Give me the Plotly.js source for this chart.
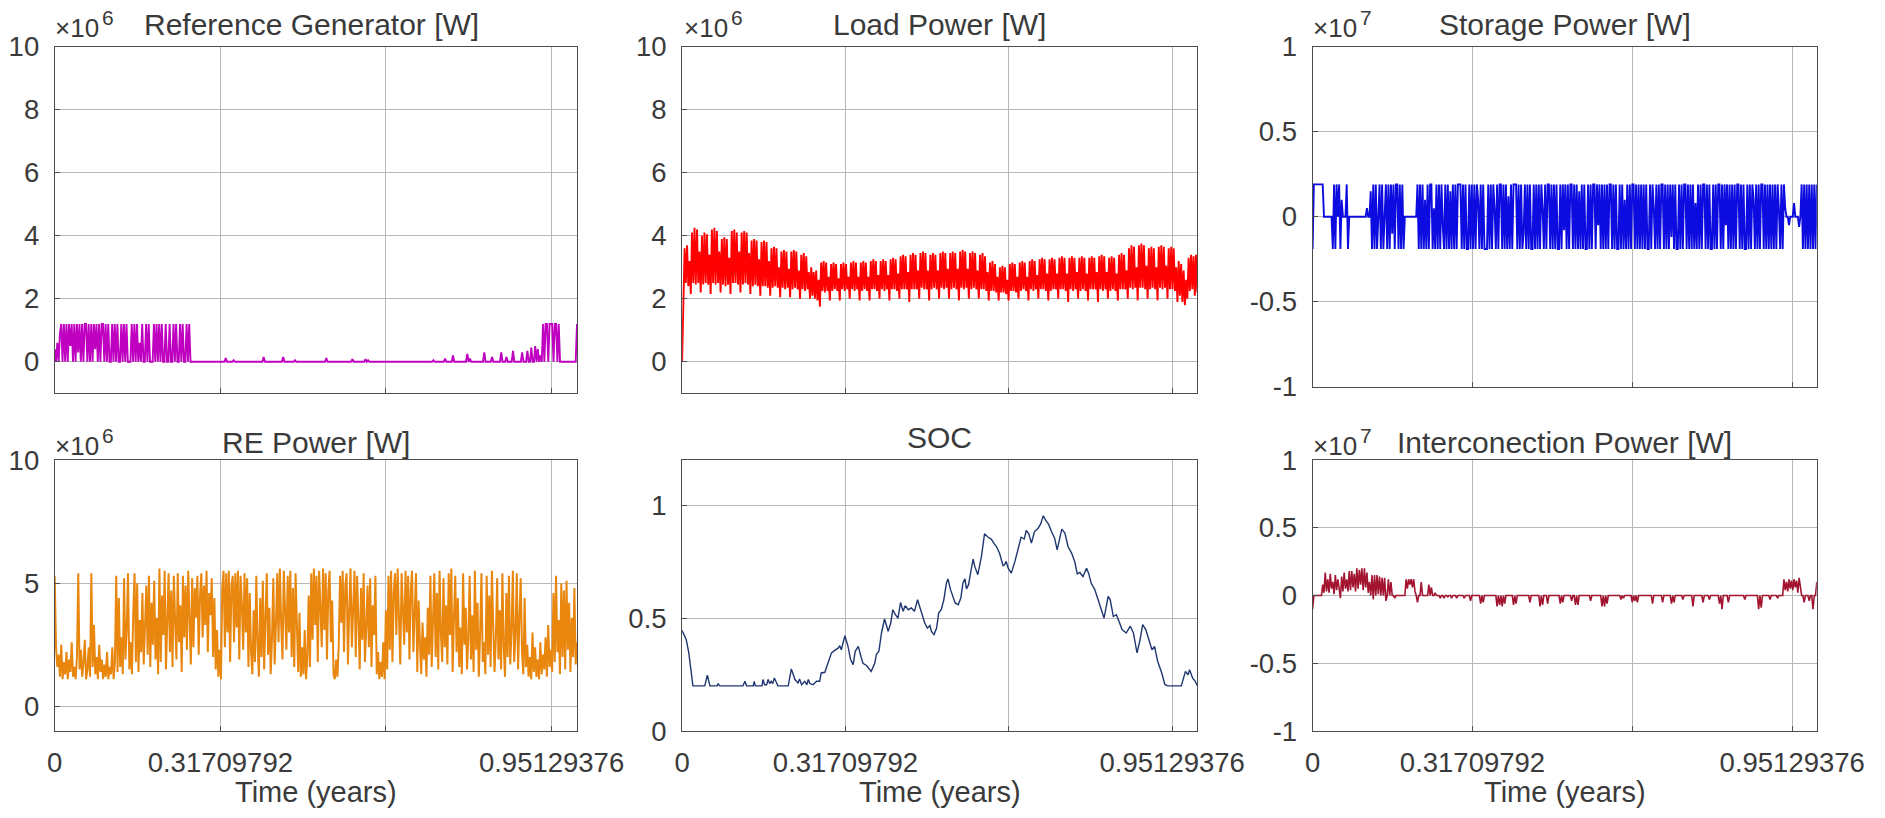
<!DOCTYPE html>
<html><head><meta charset="utf-8">
<script src="https://cdn.plot.ly/plotly-3.0.1.min.js"></script>
<style>html,body{margin:0;padding:0;background:#fff}#chart{width:1885px;height:818px}</style>
</head><body><div id="chart"></div>
<script>
// ---- tick positions (years) : 0, 1e7, 3e7 seconds labelled; 2e7 s grid only ----
const timeTicks = [0, 0.31709792, 0.95129376];
const timeTickLabels = ['0', '0.31709792', '0.95129376'];
const timeGridOnly = [0.63419584];

// ---- Reference Generator [W] (x1e6), uniform samples over one year ----
const refGenPower = [
0.4,0,0.6,0,0.9,1.2,0,1.2,0,1.2, 0,1.2,0.5,1.2,0,1.2,0,1.2,0.3,1.2,
0,1.2,0,1.2,1.2,0,1.2,0,1.2,0, 1.2,0.4,1.2,0,1.2,0,1.2,1.2,0,1.2,
0,1.2,0,0,1.2,0,1.2,0,1.2,0, 0,1.2,0,1.2,0,1.2,0,0,0,1.2,
0,1.2,0,1.2,0,0.6,0,1.2,0,0, 1.2,0,1.2,0,0,0,1.2,0,1.2,0,
1.2,0,1.2,0,0,1.2,0,0,1.2,0, 0,1.2,0,1.2,0,0,1.2,0,1.2,0,
0,1.2,0,1.2,0,0,0,0,0,0, 0,0,0,0,0,0,0,0,0,0,
0,0,0,0,0,0,0,0,0,0, 0,0.12,0,0,0,0,0,0.05,0,0,
0,0,0,0,0,0,0,0,0,0, 0,0,0,0,0,0,0,0,0,0,
0.15,0,0,0,0,0,0,0,0,0, 0,0,0,0,0,0.15,0,0,0,0,
0,0,0,0,0.05,0,0,0,0,0, 0,0,0,0,0,0,0,0,0,0,
0,0,0,0,0,0,0,0,0.12,0, 0,0,0,0,0,0,0,0,0,0,
0,0,0,0,0,0,0,0,0.08,0, 0,0,0,0,0,0,0,0,0.08,0,
0.05,0,0,0,0,0,0,0,0,0, 0,0,0,0,0,0,0,0,0,0,
0,0,0,0,0,0,0,0,0,0, 0,0,0,0,0,0,0,0,0,0,
0,0,0,0,0,0,0,0,0,0, 0.05,0,0,0,0,0,0,0,0,0.1,
0,0,0,0,0,0.2,0,0,0,0, 0,0,0,0,0,0,0.25,0,0.1,0,
0,0,0,0,0,0,0,0,0,0.3, 0,0,0,0,0,0.15,0,0,0,0,
0,0,0.3,0,0,0,0.15,0,0,0, 0,0.35,0,0,0,0,0,0,0.3,0,
0,0,0.35,0,0,0.45,0,0,0.5,0, 0.4,0,0.2,0,1.2,0,1.2,1.2,0,1.2,
1.2,1.2,0,1.2,1.2,0,1.2,0,0,0, 0,0,0,0,0,0,0,0,0,0,
1.2
];

// ---- Load Power [W] (x1e6), uniform samples over one year ----
const loadPower = [
0.0,2.2,3.6,2.5,3.7,2.4,3.2,2.15,
4.1,2.5,4.25,2.45,4.2,2.5,3.5,2.2,
4.0,2.45,4.1,2.5,4.05,2.45,3.4,2.15,
4.2,2.5,4.25,2.45,4.15,2.5,3.5,2.2,
3.9,2.45,3.95,2.4,3.9,2.45,3.3,2.15,
4.15,2.5,4.2,2.5,4.1,2.45,3.5,2.2,
4.1,2.45,4.15,2.5,4.1,2.45,3.45,2.15,
3.85,2.4,3.9,2.45,3.85,2.4,3.25,2.1,
3.8,2.4,3.85,2.4,3.8,2.35,3.2,2.1,
3.6,2.35,3.65,2.4,3.6,2.35,3.0,2.05,
3.5,2.35,3.55,2.3,3.5,2.35,2.95,2.05,
3.5,2.3,3.55,2.35,3.5,2.3,2.9,2.0,
3.4,2.3,3.45,2.25,3.35,2.3,2.85,2.0,
3.0,2.1,2.85,2.0,2.9,1.95,2.6,1.75,
3.15,2.25,3.2,2.2,3.15,2.25,2.7,1.95,
3.1,2.25,3.15,2.3,3.1,2.25,2.65,1.95,
3.1,2.3,3.15,2.25,3.1,2.3,2.7,2.0,
3.15,2.3,3.2,2.25,3.15,2.3,2.7,1.95,
3.15,2.25,3.2,2.3,3.15,2.25,2.7,1.95,
3.2,2.3,3.25,2.3,3.2,2.25,2.75,2.0,
3.2,2.3,3.25,2.25,3.2,2.3,2.75,1.95,
3.25,2.3,3.3,2.3,3.25,2.25,2.8,2.0,
3.35,2.3,3.4,2.3,3.35,2.3,2.85,1.9,
3.4,2.3,3.45,2.3,3.4,2.3,2.9,2.0,
3.45,2.35,3.5,2.3,3.45,2.3,2.9,1.95,
3.4,2.3,3.45,2.35,3.4,2.3,2.9,2.0,
3.45,2.35,3.5,2.3,3.45,2.35,2.95,2.0,
3.45,2.3,3.5,2.35,3.45,2.3,2.95,1.95,
3.5,2.35,3.55,2.3,3.5,2.35,2.95,2.0,
3.45,2.3,3.5,2.35,3.45,2.3,2.9,2.0,
3.4,2.3,3.45,2.3,3.35,2.25,2.85,1.95,
3.15,2.25,3.2,2.25,3.1,2.2,2.7,1.95,
3.0,2.2,3.05,2.2,3.0,2.15,2.6,1.95,
3.1,2.25,3.15,2.25,3.1,2.2,2.7,2.0,
3.15,2.25,3.2,2.3,3.15,2.25,2.7,1.95,
3.2,2.3,3.25,2.25,3.2,2.3,2.75,2.0,
3.25,2.3,3.3,2.3,3.25,2.25,2.8,1.95,
3.25,2.25,3.3,2.3,3.25,2.3,2.8,2.0,
3.3,2.3,3.35,2.3,3.3,2.25,2.8,1.9,
3.3,2.3,3.35,2.25,3.3,2.3,2.85,2.0,
3.3,2.25,3.35,2.3,3.3,2.25,2.8,1.95,
3.3,2.3,3.35,2.3,3.3,2.3,2.85,1.9,
3.35,2.3,3.4,2.25,3.35,2.3,2.85,2.0,
3.3,2.25,3.35,2.3,3.3,2.25,2.8,1.95,
3.4,2.3,3.45,2.3,3.4,2.3,2.9,2.0,
3.6,2.35,3.7,2.3,3.65,2.35,3.0,1.95,
3.7,2.35,3.75,2.35,3.7,2.3,3.05,2.0,
3.6,2.3,3.65,2.35,3.6,2.3,3.0,1.95,
3.65,2.35,3.7,2.3,3.65,2.35,3.05,2.0,
3.6,2.3,3.65,2.3,3.6,2.25,3.0,1.9,
3.2,2.1,3.1,1.9,2.9,1.8,2.6,2.0,
3.3,2.25,3.4,2.3,3.35,2.1,3.4,2.2
];

// ---- Storage Power [W] (x1e7), uniform samples over one year ----
const storagePower = [
-0.19,0.19,0.19,0.19,0.19,0.19,0.19,0.19,0.19,0,
0,0,0,0,0,0,-0.19,0.19,-0.19,0.19,
0,0.19,-0.19,0.1,0,0,0,0.19,-0.19,0,
0,0,0,0,0,0,0,0,0,0,
0,0,0,0.05,0,0,0.15,-0.19,0.19,-0.19,
0.19,-0.19,0,0.19,-0.19,0.19,-0.19,0.05,0.19,-0.19,
0.19,-0.19,0.19,-0.1,0.19,-0.19,0.19,0.19,-0.19,0.19,
-0.19,0.19,-0.19,0,0,0,0,0,0,0,
0,0,0,0.19,-0.19,0.19,-0.19,0.19,-0.19,0.1,
-0.19,0.19,-0.19,0.19,0.19,-0.19,0.05,-0.19,0.19,-0.19,
0.19,-0.19,0.19,-0.05,-0.19,0.19,-0.19,0.19,-0.19,0.15,
-0.19,0.19,-0.19,0.19,-0.19,0.19,0.19,0.19,-0.19,0.19,
-0.19,0.19,-0.19,-0.19,0.19,-0.19,0.19,-0.19,0.19,-0.19,
0.19,0.1,-0.19,0.19,-0.19,0.19,-0.19,-0.19,-0.19,0.19,
-0.19,0.19,-0.19,0.19,0.05,-0.19,0.19,-0.19,0.19,0.19,
-0.19,0.19,-0.19,0.19,-0.19,0.12,-0.19,0.19,-0.19,0.19,
0.19,0.19,-0.19,0.19,-0.19,0.19,-0.19,-0.1,0.19,-0.19,
0.19,-0.19,0.19,-0.19,-0.19,0.19,-0.19,0.19,-0.19,0.19,
-0.19,0.19,0.05,-0.19,0.19,-0.19,0.19,0.19,-0.19,0.19,
-0.19,0.19,-0.19,0.19,-0.19,-0.19,0.19,-0.19,0.19,-0.08,
0.19,-0.19,0.19,-0.19,0.19,0.19,-0.19,0.19,-0.19,0.19,
-0.19,0.15,-0.19,0.19,-0.19,0.19,-0.19,-0.19,0.19,-0.19,
0.19,-0.19,0.19,0.19,-0.19,0.19,-0.05,0.19,-0.19,0.19,
-0.19,0.19,-0.19,0.19,-0.19,0.19,0.19,-0.19,0.19,-0.19,
0.19,-0.19,-0.19,0.19,-0.19,0.19,-0.19,0.1,-0.19,0.19,
-0.19,0.19,-0.19,0.19,0.19,-0.19,0.19,-0.19,0.19,-0.19,
0.19,-0.19,0.19,-0.19,0.19,-0.19,-0.19,0.19,-0.19,0.19,
0.05,-0.19,0.19,-0.19,0.19,-0.19,0.19,0.19,-0.19,0.19,
-0.19,0.19,-0.19,0.19,-0.12,0.19,-0.19,0.19,-0.19,-0.19,
0.19,-0.19,0.19,-0.19,0.19,0.19,-0.19,0.19,-0.19,0.19,
-0.19,0.19,-0.19,0.08,-0.19,0.19,-0.19,0.19,-0.19,0.19,
0.19,-0.19,0.19,-0.19,0.19,-0.19,-0.19,0.19,-0.19,0.19,
-0.19,0.19,0.19,-0.19,0.19,-0.19,0.19,-0.05,0.19,-0.19,
0.19,-0.19,0.19,-0.19,0.19,-0.19,0.19,0.19,-0.19,0.19,
-0.19,0.19,-0.19,-0.19,0.19,-0.19,0.19,-0.19,0.19,0.1,
-0.19,0.19,-0.19,0.19,-0.19,0.19,0.19,-0.19,0.19,-0.19,
0.19,-0.19,0.19,-0.19,0.19,-0.19,0.19,-0.19,0.19,0.05,
-0.19,0.19,-0.19,0.19,0.05,0,0,-0.05,0,0,
0,0.08,0,0,0,-0.06,0,0.19,-0.19,0.19,
-0.19,0.19,-0.19,0.19,-0.19,0.19,-0.19,0.19,-0.19,0.19
];

// ---- RE Power [W] (x1e6), uniform samples over one year ----
const rePower = [
5.3,2.4,1.6,2.1,1.2,2.5,1.1,1.8,1.3,2.2,
1.1,1.9,1.4,2.6,1.2,1.6,1.1,2.0,5.4,1.5,
2.3,1.2,1.8,2.7,1.1,1.5,2.4,1.2,5.4,1.6,
3.3,1.3,2.0,1.1,2.5,1.4,1.9,1.1,1.7,1.2,
2.2,1.1,1.6,1.3,2.4,1.1,1.8,5.3,1.4,4.4,
1.6,2.8,1.3,5.2,1.9,3.1,5.4,1.5,2.6,1.3,
3.8,5.4,1.8,5.0,1.4,3.5,2.2,4.6,1.7,3.0,
4.9,2.1,5.3,1.6,4.2,2.5,5.1,1.9,3.6,1.3,
5.6,1.8,4.5,2.9,5.5,1.5,3.2,5.4,2.2,4.7,
1.6,5.3,3.5,1.9,5.4,2.6,4.1,1.4,5.3,2.8,
4.9,2.3,5.5,3.1,1.7,5.2,2.4,4.8,3.6,5.3,
2.1,4.5,5.4,2.8,4.9,3.3,5.5,2.2,4.6,3.7,
5.2,2.0,4.4,1.5,3.1,1.2,2.3,1.1,4.8,5.5,
2.4,5.4,3.0,5.5,1.8,4.9,5.3,2.6,5.4,3.2,
5.5,1.9,5.3,4.1,2.3,5.4,3.0,5.2,1.6,4.6,
2.2,1.3,3.9,1.8,5.3,2.5,1.2,4.4,2.0,5.1,
1.5,3.6,5.4,2.1,4.0,1.3,2.8,5.2,1.7,3.3,
5.4,2.6,5.6,3.4,1.9,5.5,4.2,2.3,5.3,3.0,
5.5,2.0,4.8,1.6,5.4,2.9,1.4,3.8,1.2,2.4,
1.3,3.1,1.1,2.0,4.5,1.6,5.4,2.7,5.6,3.3,
5.3,1.8,5.5,4.0,2.4,5.6,3.1,5.4,1.9,4.7,
5.5,2.6,4.3,1.3,1.1,1.9,1.2,2.5,5.3,3.4,
5.5,2.2,4.9,5.4,1.7,3.9,5.6,2.4,4.4,5.5,
2.0,5.3,3.6,1.5,4.8,2.7,5.4,1.8,3.2,4.9,
2.4,5.2,1.6,4.1,2.9,5.3,1.3,2.2,1.1,1.8,
1.2,2.6,1.1,3.9,1.5,5.3,2.3,5.5,1.8,4.6,
5.4,2.9,5.6,3.5,1.7,5.4,4.2,2.5,5.5,3.0,
5.3,1.9,4.7,5.5,2.2,3.8,5.4,1.4,4.3,2.6,
1.3,3.4,1.9,2.8,1.2,4.0,2.1,5.3,1.6,3.5,
5.4,2.0,4.6,1.5,5.5,3.0,1.8,5.2,2.4,4.1,
1.7,5.4,2.9,5.6,1.4,3.6,5.3,2.2,4.4,1.6,
3.2,1.3,5.4,2.5,4.0,1.5,2.8,5.3,1.9,3.7,
1.4,5.5,2.3,4.2,1.2,3.0,5.4,1.8,2.6,1.3,
5.3,2.1,4.5,1.6,5.5,3.3,1.4,2.7,5.2,1.9,
3.9,1.5,5.4,2.4,1.2,4.6,2.0,5.3,1.7,3.1,
5.5,1.8,2.9,5.4,1.5,3.6,5.2,2.2,1.3,4.4,
1.6,2.5,1.2,2.0,1.1,3.0,1.4,2.4,1.2,1.9,
1.1,2.6,1.3,2.1,1.5,2.8,1.2,3.3,1.6,2.3,
1.4,4.6,1.8,5.3,2.2,3.5,1.3,5.0,2.0,4.7,
1.5,5.1,2.3,4.2,1.4,3.6,2.0,4.8,1.7,2.6
];

// ---- SOC (per unit), read at irregular times ----
const socTime = [0,.008,.013,.021,.044,.049,.054,.068,.070,.073,.118,.122,.125,.138,.140,.142,.155,.157,.160,.164,.167,.170,.173,.176,.179,.183,.186,.206,.212,.219,.225,.228,.232,.238,.242,.245,.248,.254,.261,.267,.270,.277,.283,.290,.296,.303,.306,.309,.316,.322,.327,.332,.336,.342,.347,.351,.358,.364,.367,.374,.377,.382,.387,.393,.400,.405,.409,.414,.419,.424,.429,.433,.439,.445,.451,.457,.461,.466,.471,.476,.481,.484,.489,.494,.498,.503,.508,.513,.516,.521,.526,.530,.536,.541,.545,.549,.552,.556,.561,.565,.568,.571,.574,.581,.584,.587,.594,.600,.605,.610,.616,.623,.626,.629,.633,.639,.646,.652,.658,.664,.668,.673,.678,.684,.691,.696,.701,.707,.711,.717,.723,.728,.733,.737,.743,.749,.756,.762,.767,.772,.778,.785,.789,.794,.801,.807,.814,.819,.827,.831,.837,.843,.848,.854,.862,.870,.876,.883,.889,.894,.900,.906,.912,.917,.923,.931,.937,.942,.969,.977,.982,.985,.991,.996,1.0];
const socLevel = [.445,.405,.346,.2,.2,.247,.2,.2,.21,.2,.2,.22,.2,.2,.22,.2,.2,.228,.205,.205,.228,.21,.22,.21,.235,.215,.2,.2,.275,.228,.213,.23,.205,.22,.205,.228,.21,.205,.22,.22,.257,.26,.30,.346,.357,.367,.378,.36,.422,.375,.316,.294,.353,.375,.331,.30,.29,.272,.264,.30,.338,.353,.434,.496,.441,.478,.537,.515,.50,.569,.53,.555,.537,.545,.53,.581,.552,.508,.478,.456,.467,.441,.427,.456,.522,.537,.581,.655,.673,.626,.589,.567,.559,.589,.655,.674,.629,.648,.714,.761,.729,.706,.692,.773,.835,.873,.858,.85,.832,.817,.788,.732,.736,.751,.721,.699,.751,.81,.858,.85,.888,.873,.832,.883,.898,.917,.953,.928,.917,.883,.854,.802,.85,.894,.876,.817,.788,.751,.696,.702,.684,.721,.699,.655,.626,.581,.53,.50,.596,.581,.507,.515,.486,.449,.434,.464,.434,.346,.405,.471,.449,.405,.36,.375,.309,.257,.206,.2,.2,.264,.249,.271,.234,.22,.2];

// ---- Interconection Power [W] (x1e7), uniform samples over one year ----
const interPower = [
-0.1,0,0,0,0,0,0,0,0.08,0.02,
0.17,0.03,0.12,0.02,0.16,0.05,0.1,0.01,0.15,0.04,
0.12,0.02,-0.02,0.14,0.03,0.17,0.05,0.12,0.03,0.18,
0.04,0.18,0.06,0.16,0.03,0.2,0.05,0.19,0.08,0.2,
0.04,0.2,0.06,0.17,0.02,0.1,0,0.15,-0.03,0.15,
0,0.15,0.01,0.14,0,0.13,0,0.13,-0.04,0,
0.12,0,0.1,0,0,-0.02,0,0,0,0,
0,0,0,0,0.12,0.05,0.12,0.08,0.12,0.06,
0.12,0.03,0,-0.05,0,0,0.1,0,0,0,
0,0,0.08,0,0.06,0,0,0.02,0,0,
0,-0.02,0,0,-0.02,0,0,-0.01,0,0,
-0.02,0,0,0,-0.02,0,0,0,0,0,
-0.02,0,0,0,0,-0.04,0,0,0,0,
0,0,0,-0.06,0,-0.05,0,0,0,0,
0,0,0,0,0,0,-0.08,0,-0.07,0,
-0.08,0,-0.06,0,0,0,0,0,0,-0.07,
0,-0.06,0,0,0,0,0,0,0,0,
0,0,-0.05,0,0,0,0,0,0,0,
-0.08,0,-0.07,0,0,0,-0.06,0,0,0,
0,0,0,0,0,0,-0.06,0,-0.05,0,
0,0,0,0,0,-0.04,0,0,-0.07,0,
-0.07,0,0,0,0,0,0,0,0,0,
-0.04,0,0,0,0,0,0,0,0,-0.08,
0,-0.08,0,-0.06,0,0,0,0,0,0,
0,0,0,0,-0.03,0,-0.02,0,0,0,
0,0,0,-0.05,0,-0.04,0,-0.05,0,0,
0,0,0,0,0,0,0,0,0,-0.06,
0,0,0,0,0,0,0,-0.05,0,0,
0,0,0,0,-0.06,0,-0.05,0,0,0,
0,0,0,-0.03,0,0,0,0,0,0,
0,-0.08,0,0,0,0,0,0,0,-0.05,
0,0,0,0,-0.03,0,0,0,0,0,
0,0,-0.06,0,-0.1,0,0,0,0,-0.05,
0,0,0,0,0,0,0,0,0,0,
0,0,-0.03,0,0,0,0,0,0,0,
0,0,0,-0.1,0,-0.09,0,0,0,0,
0,0,-0.03,0,0,0,0,0,-0.02,0,
0,0,0,0.12,0.04,0.1,0.03,0.12,0.05,0.11,
0.04,0.12,0.06,0.11,0.02,0.13,0.08,0,0,-0.05,
0,0,0,-0.04,0,0,-0.1,0,0,0.1
];

// sampling grid (years) for uniformly sampled series
function sampleTimes(n){ const t=[]; for(let i=0;i<n;i++) t.push(i/(n-1)); return t; }

const FONT = 'Liberation Sans, Arial, Helvetica, sans-serif';
const TXT = '#3a3a3a';
const GRID = '#b8b8b8';
const FRAME = '#4d4d4d';

function tr(x, y, xa, ya, color, w){
  return {x:x, y:y, xaxis:xa, yaxis:ya, type:'scatter', mode:'lines',
          line:{color:color, width:w}, hoverinfo:'skip', showlegend:false};
}

const data = [
  tr(sampleTimes(refGenPower.length), refGenPower, 'x', 'y', '#c000c0', 1.9),
  tr(sampleTimes(loadPower.length), loadPower, 'x2', 'y2', '#ff0000', 1.9),
  tr(sampleTimes(storagePower.length), storagePower, 'x3', 'y3', '#0c0ce0', 1.9),
  tr(sampleTimes(rePower.length), rePower, 'x4', 'y4', '#e8860e', 2.0),
  tr(socTime, socLevel, 'x5', 'y5', '#1f3670', 1.4),
  tr(sampleTimes(interPower.length), interPower, 'x6', 'y6', '#a2142f', 1.6)
];

const base = {showline:true, mirror:true, linecolor:FRAME, linewidth:1,
  showgrid:true, gridcolor:GRID, gridwidth:1, zeroline:false,
  ticks:'inside', ticklen:5, tickcolor:FRAME, fixedrange:true,
  tickfont:{family:FONT, size:27.5, color:TXT}};

function xa(domain, anchor, labels){
  return Object.assign({}, base, {domain:domain, anchor:anchor, range:[0,1],
    tickmode:'array', tickvals:timeTicks, ticktext:timeTickLabels,
    showticklabels:labels, ticklabelstandoff:7,
    minor:{tickmode:'array', tickvals:timeGridOnly, showgrid:true,
           gridcolor:GRID, gridwidth:1, ticks:'inside', ticklen:5, tickcolor:FRAME}});
}
function ya(domain, anchor, range, vals, text){
  return Object.assign({}, base, {domain:domain, anchor:anchor, range:range,
    tickmode:'array', tickvals:vals, ticktext:text, ticklabelstandoff:9});
}

const c1=[0.02902,0.30610], c2=[0.36186,0.63517], c3=[0.69634,0.96382];
const r1=[0.51919,0.94291], r1b=[0.52726,0.94291], r2=[0.10636,0.43765];

const yPow = [0,2,4,6,8,10], yPowT = ['0','2','4','6','8','10'];
const yBi = [-1,-0.5,0,0.5,1], yBiT = ['-1','-0.5','0','0.5','1'];

const px = v => v/1885;
const py = v => (818 - v)/818;
function ann(text, x, y, xanchor, size){
  return {text:text, xref:'paper', yref:'paper', x:x, y:y, xanchor:xanchor,
    yanchor:'middle', showarrow:false, font:{family:FONT, size:size, color:TXT}};
}

const layout = {
  width:1885, height:818, margin:{l:0,r:0,t:0,b:0},
  paper_bgcolor:'#ffffff', plot_bgcolor:'#ffffff', showlegend:false,
  xaxis: xa(c1,'y',false), yaxis: ya(r1,'x',[-1,10],yPow,yPowT),
  xaxis2: xa(c2,'y2',false), yaxis2: ya(r1,'x2',[-1,10],yPow,yPowT),
  xaxis3: xa(c3,'y3',false), yaxis3: ya(r1b,'x3',[-1,1],yBi,yBiT),
  xaxis4: xa(c1,'y4',true), yaxis4: ya(r2,'x4',[-1,10],[0,5,10],['0','5','10']),
  xaxis5: xa(c2,'y5',true), yaxis5: ya(r2,'x5',[0,1.2],[0,0.5,1],['0','0.5','1']),
  xaxis6: xa(c3,'y6',true), yaxis6: ya(r2,'x6',[-1,1],yBi,yBiT),
  annotations:[
    ann('Reference Generator [W]', 0.1650, py(25), 'center', 30),
    ann('Load Power [W]', 0.49852, py(25), 'center', 30),
    ann('Storage Power [W]', 0.83008, py(25), 'center', 30),
    ann('RE Power [W]', 0.16756, py(442), 'center', 30),
    ann('SOC', 0.49852, py(437), 'center', 30),
    ann('Interconection Power [W]', 0.83008, py(442), 'center', 30),
    // axis exponent labels
    ann('×10', px(53), py(28), 'left', 26), ann('6', px(100), py(17), 'left', 21),
    ann('×10', px(682), py(28), 'left', 26), ann('6', px(729), py(17), 'left', 21),
    ann('×10', px(1311), py(28), 'left', 26), ann('7', px(1358), py(17), 'left', 21),
    ann('×10', px(53), py(446), 'left', 26), ann('6', px(100), py(435), 'left', 21),
    ann('×10', px(1311), py(446), 'left', 26), ann('7', px(1358), py(435), 'left', 21),
    // x axis titles
    ann('Time (years)', 0.16756, py(792), 'center', 29),
    ann('Time (years)', 0.49852, py(792), 'center', 29),
    ann('Time (years)', 0.83008, py(792), 'center', 29)
  ]
};

Plotly.newPlot('chart', data, layout, {displayModeBar:false, staticPlot:true});
</script>
</body></html>
